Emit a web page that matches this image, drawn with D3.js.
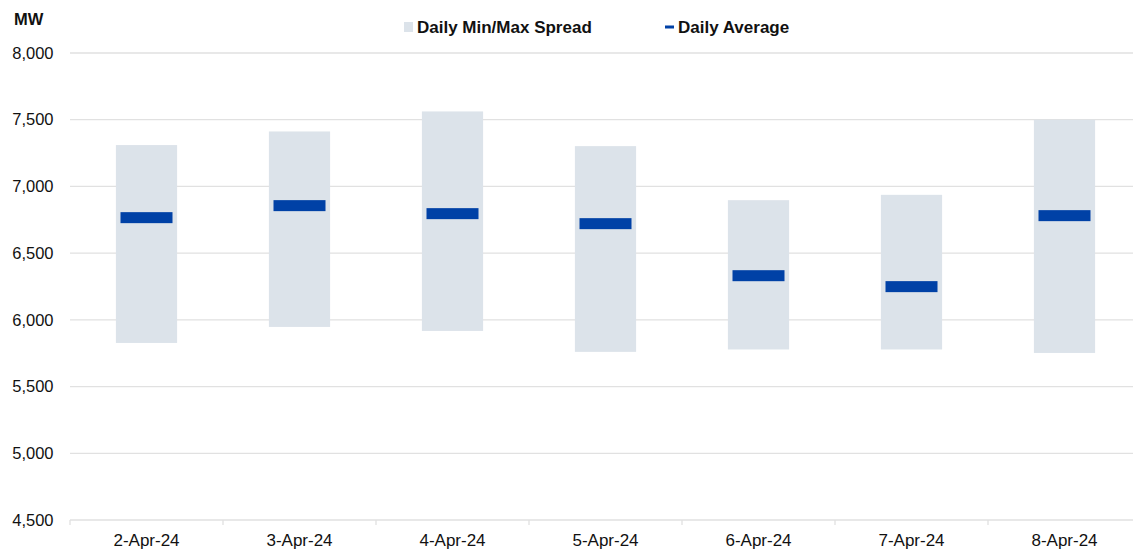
<!DOCTYPE html>
<html>
<head>
<meta charset="utf-8">
<script src="https://cdn.jsdelivr.net/npm/d3@7"></script>
<style>
  body { margin: 0; background: #fff; }
  #chart { width: 1133px; height: 552px; }
  text { font-family: "Liberation Sans", Arial, sans-serif; fill: #111; }
</style>
</head>
<body>
<div id="chart"></div>
<script>
const dates = ["2-Apr-24", "3-Apr-24", "4-Apr-24", "5-Apr-24", "6-Apr-24", "7-Apr-24", "8-Apr-24"];
const dailyMin = [5827, 5947, 5917, 5760, 5778, 5778, 5752];
const dailyMax = [7310, 7412, 7562, 7302, 6897, 6937, 7500];
const dailyAvg = [6766, 6856, 6796, 6721, 6331, 6249, 6781];
const yTicks = [4500, 5000, 5500, 6000, 6500, 7000, 7500, 8000];

const totalWidth = 1133;
const totalHeight = 552;
const margin = { top: 53, right: -8, bottom: 32, left: 70 };
const width = totalWidth - margin.left - margin.right;
const height = totalHeight - margin.top - margin.bottom;

const svg = d3.select("#chart")
  .append("svg")
  .attr("width", totalWidth)
  .attr("height", totalHeight)
  .append("g")
  .attr("transform", `translate(${margin.left},${margin.top})`);

const data = dates.map((d, i) => ({ date: d, min: dailyMin[i], max: dailyMax[i], avg: dailyAvg[i] }));

const xScale = d3.scaleBand()
  .domain(dates)
  .range([0, width])
  .padding(0);

const yScale = d3.scaleLinear()
  .domain([4500, 8000])
  .range([height, 0]);

// gridlines
svg.append("g")
  .selectAll("line")
  .data(yTicks)
  .enter()
  .append("line")
  .attr("x1", 0)
  .attr("x2", width)
  .attr("y1", d => yScale(d))
  .attr("y2", d => yScale(d))
  .attr("stroke", "#e1e1e1")
  .attr("stroke-width", 1.3);

// y axis labels
const yAxis = d3.axisLeft(yScale)
  .tickValues(yTicks)
  .tickFormat(d3.format(","))
  .tickSize(0)
  .tickPadding(16.5);

svg.append("g")
  .attr("id", "y-axis")
  .call(yAxis)
  .call(g => g.select(".domain").remove())
  .call(g => g.selectAll("text")
    .style("font-size", "16.5px")
    .style("font-family", "'Liberation Sans', Arial, sans-serif")
    .attr("fill", "#111"));

// x axis
const xAxis = d3.axisBottom(xScale).tickSize(0).tickPadding(14);

svg.append("g")
  .attr("id", "x-axis")
  .attr("transform", `translate(0, ${height})`)
  .call(xAxis)
  .call(g => g.select(".domain").remove())
  .call(g => g.selectAll("text")
    .style("font-size", "17px")
    .style("font-family", "'Liberation Sans', Arial, sans-serif")
    .attr("fill", "#111"));

// category boundary ticks
svg.append("g")
  .selectAll("line")
  .data(dates)
  .enter()
  .append("line")
  .attr("x1", d => xScale(d))
  .attr("x2", d => xScale(d))
  .attr("y1", height)
  .attr("y2", height + 5)
  .attr("stroke", "#e1e1e1")
  .attr("stroke-width", 1.3);

const barWidth = xScale.bandwidth() * 0.4;
const avgWidth = 52;
const avgHeight = 11;

// min/max spread
svg.selectAll(".spread")
  .data(data)
  .enter()
  .append("rect")
  .attr("class", "spread")
  .attr("x", d => xScale(d.date) + xScale.bandwidth() / 2 - barWidth / 2)
  .attr("y", d => yScale(d.max))
  .attr("width", barWidth)
  .attr("height", d => yScale(d.min) - yScale(d.max))
  .attr("fill", "#dce3ea");

// daily average
svg.selectAll(".avg")
  .data(data)
  .enter()
  .append("rect")
  .attr("class", "avg")
  .attr("x", d => xScale(d.date) + xScale.bandwidth() / 2 - avgWidth / 2)
  .attr("y", d => yScale(d.avg) - avgHeight / 2)
  .attr("width", avgWidth)
  .attr("height", avgHeight)
  .attr("fill", "#0041a6");

// unit label
const root = d3.select("#chart svg");
root.append("text")
  .attr("x", 14)
  .attr("y", 25)
  .style("font-size", "16.5px")
  .style("font-weight", "bold")
  .text("MW");

// legend
const legend = root.append("g").attr("transform", "translate(0, 27)");
legend.append("rect")
  .attr("x", 404)
  .attr("y", -5)
  .attr("width", 9)
  .attr("height", 10)
  .attr("fill", "#dce3ea");
legend.append("text")
  .attr("x", 417)
  .attr("y", 6)
  .style("font-size", "17px")
  .style("font-weight", "bold")
  .text("Daily Min/Max Spread");
legend.append("rect")
  .attr("x", 665)
  .attr("y", -1.5)
  .attr("width", 9)
  .attr("height", 3)
  .attr("fill", "#0041a6");
legend.append("text")
  .attr("x", 678)
  .attr("y", 6)
  .style("font-size", "17px")
  .style("font-weight", "bold")
  .text("Daily Average");
</script>
</body>
</html>
